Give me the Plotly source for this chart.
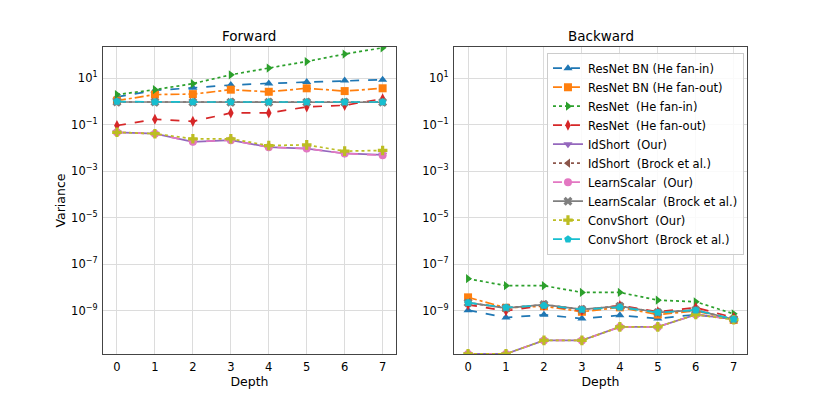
import plotly.graph_objects as go

depth = [0, 1, 2, 3, 4, 5, 6, 7]

names = ["ResNet BN (He fan-in)", "ResNet BN (He fan-out)", "ResNet  (He fan-in)",
         "ResNet  (He fan-out)", "IdShort  (Our)", "IdShort  (Brock et al.)",
         "LearnScalar  (Our)", "LearnScalar  (Brock et al.)", "ConvShort  (Our)",
         "ConvShort  (Brock et al.)"]

# log10 of variance, forward pass
fwd_bn_fanin = [0.19, 0.47, 0.58, 0.70, 0.77, 0.83, 0.89, 0.93]
fwd_bn_fanout = [0.03, 0.29, 0.31, 0.50, 0.41, 0.56, 0.44, 0.56]
fwd_res_fanin = [0.29, 0.50, 0.76, 1.14, 1.43, 1.71, 2.03, 2.30]
fwd_res_fanout = [-1.04, -0.77, -0.86, -0.50, -0.50, -0.24, -0.17, 0.11]
fwd_id_our = [-1.33, -1.39, -1.74, -1.67, -1.97, -2.03, -2.24, -2.30]
fwd_id_brock = [-0.03, -0.03, -0.03, -0.03, -0.03, -0.03, -0.03, -0.03]
fwd_ls_our = [-1.33, -1.39, -1.74, -1.67, -1.97, -2.03, -2.24, -2.32]
fwd_ls_brock = [-0.03, -0.03, -0.04, -0.04, -0.04, -0.04, -0.04, -0.04]
fwd_cs_our = [-1.33, -1.39, -1.61, -1.61, -1.90, -1.87, -2.14, -2.11]
fwd_cs_brock = [-0.01, -0.03, -0.03, -0.03, -0.03, -0.03, -0.03, -0.03]

# log10 of variance, backward pass
bwd_bn_fanin = [-8.97, -9.29, -9.17, -9.33, -9.19, -9.33, -9.16, -9.35]
bwd_bn_fanout = [-8.42, -8.87, -8.80, -9.04, -8.85, -9.16, -9.00, -9.39]
bwd_res_fanin = [-7.62, -7.92, -7.92, -8.21, -8.21, -8.54, -8.61, -9.13]
bwd_res_fanout = [-8.74, -9.00, -8.77, -8.98, -8.77, -9.04, -8.86, -9.29]
bwd_id_our = [-10.85, -10.85, -10.27, -10.27, -9.69, -9.69, -9.16, -9.36]
bwd_id_brock = [-8.65, -8.88, -8.73, -8.94, -8.80, -9.07, -8.97, -9.36]
bwd_ls_our = [-10.85, -10.85, -10.27, -10.27, -9.69, -9.69, -9.16, -9.36]
bwd_ls_brock = [-8.65, -8.88, -8.73, -8.94, -8.80, -9.07, -8.97, -9.36]
bwd_cs_our = [-10.85, -10.85, -10.27, -10.27, -9.69, -9.69, -9.16, -9.38]
bwd_cs_brock = [-8.65, -8.86, -8.77, -8.94, -8.85, -9.07, -8.97, -9.36]

forward = [fwd_bn_fanin, fwd_bn_fanout, fwd_res_fanin, fwd_res_fanout, fwd_id_our,
           fwd_id_brock, fwd_ls_our, fwd_ls_brock, fwd_cs_our, fwd_cs_brock]
backward = [bwd_bn_fanin, bwd_bn_fanout, bwd_res_fanin, bwd_res_fanout, bwd_id_our,
            bwd_id_brock, bwd_ls_our, bwd_ls_brock, bwd_cs_our, bwd_cs_brock]

colors = ["#1f77b4", "#ff7f0e", "#2ca02c", "#d62728", "#9467bd",
          "#8c564b", "#e377c2", "#7f7f7f", "#bcbd22", "#17becf"]
dashes = ["dash", "dashdot", "dot", "dash", "solid", "dot", "dash", "solid", "dot", "dash"]
symbols = ["triangle-up", "square", "triangle-right", "diamond-tall", "triangle-down",
           "triangle-left", "circle", "x", "cross", "pentagon"]

tick_exp = [1, -1, -3, -5, -7, -9]
tick_vals = [10.0 ** e for e in tick_exp]
tick_text = ["10<sup>%s</sup>" % (str(e).replace("-", "\u2212")) for e in tick_exp]

FONT = "DejaVu Sans"
fig = go.Figure()

for panel, data in enumerate([forward, backward]):
    xa = "x" if panel == 0 else "x2"
    ya = "y" if panel == 0 else "y2"
    for i, vals in enumerate(data):
        fig.add_trace(go.Scatter(
            x=depth, y=[10.0 ** v for v in vals], name=names[i],
            mode="lines+markers", xaxis=xa, yaxis=ya,
            line=dict(color=colors[i], dash=dashes[i], width=1.7),
            marker=dict(color=colors[i], symbol=symbols[i], size=8,
                        line=dict(width=0)),
            showlegend=(panel == 1), legendrank=i + 1,
        ))

axis_common = dict(showline=True, linecolor="#444", linewidth=1, mirror=True,
                   showgrid=True, gridcolor="#dcdcdc", gridwidth=1, zeroline=False,
                   ticks="outside", ticklen=2, tickcolor="rgba(0,0,0,0)",
                   tickfont=dict(family=FONT, size=11.5, color="black"))

fig.update_layout(
    width=830, height=399,
    margin=dict(l=0, r=0, t=0, b=0),
    paper_bgcolor="white", plot_bgcolor="white",
    font=dict(family=FONT, size=11, color="black"),
    xaxis=dict(domain=[0.124, 0.477], range=[-0.37, 7.35], tickvals=depth, anchor="y",
               title=dict(text="Depth", font=dict(size=12.5), standoff=0), **axis_common),
    xaxis2=dict(domain=[0.547, 0.9], range=[-0.37, 7.35], tickvals=depth, anchor="y2",
                title=dict(text="Depth", font=dict(size=12.5), standoff=0), **axis_common),
    yaxis=dict(domain=[0.113, 0.882], type="log", range=[-10.85, 2.33], anchor="x",
               tickvals=tick_vals, ticktext=tick_text,
               title=dict(text="Variance", font=dict(size=12.5), standoff=2), **axis_common),
    yaxis2=dict(domain=[0.113, 0.882], type="log", range=[-10.85, 2.33], anchor="x2",
                tickvals=tick_vals, ticktext=tick_text, **axis_common),
    legend=dict(x=0.659, y=0.868, xanchor="left", yanchor="top",
                bgcolor="rgba(255,255,255,0.85)", bordercolor="#cccccc", borderwidth=1,
                font=dict(family=FONT, size=11.5), tracegroupgap=0, itemwidth=30),
    annotations=[
        dict(text="Forward", x=0.3005, y=0.882, xref="paper", yref="paper",
             xanchor="center", yanchor="bottom", showarrow=False, yshift=1,
             font=dict(family=FONT, size=13.5)),
        dict(text="Backward", x=0.7235, y=0.882, xref="paper", yref="paper",
             xanchor="center", yanchor="bottom", showarrow=False, yshift=1,
             font=dict(family=FONT, size=13.5)),
    ],
)

fig.write_html("out.html", config={"displayModeBar": False},
               post_script="document.body.style.margin='0';")
